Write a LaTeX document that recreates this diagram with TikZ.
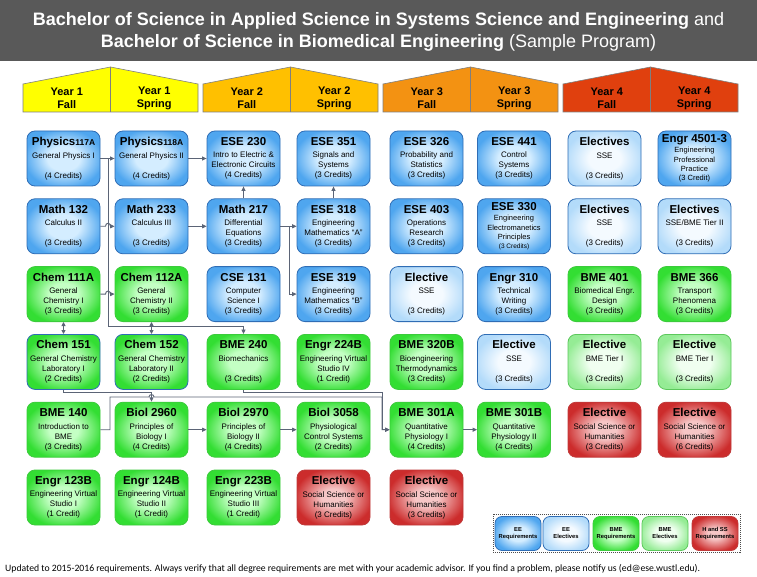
\documentclass[tikz,border=0pt]{standalone}
\usepackage{fontspec}
\setmainfont{Liberation Sans}
\newfontfamily\footfont{Carlito}
\usetikzlibrary{arrows.meta}
\definecolor{titlegray}{HTML}{595959}
\definecolor{hdrA}{HTML}{FFFF00}
\definecolor{hdrB}{HTML}{FFC000}
\definecolor{hdrC}{HTML}{F39212}
\definecolor{hdrD}{HTML}{E0400E}
\definecolor{hdrline}{HTML}{7F7F7F}
\definecolor{lncol}{HTML}{5B6476}
\definecolor{eeB}{HTML}{2F6DB5}
\definecolor{eeO}{HTML}{4FA6EF}
\definecolor{eeI}{HTML}{D4EDFF}
\definecolor{eelO}{HTML}{B3DBFA}
\definecolor{eelI}{HTML}{F4FAFF}
\definecolor{bmB}{HTML}{3CCB3C}
\definecolor{bmO}{HTML}{33DE33}
\definecolor{bmI}{HTML}{C4FFC4}
\definecolor{bmlB}{HTML}{5CC85C}
\definecolor{bmlO}{HTML}{95EC95}
\definecolor{bmlI}{HTML}{F0FFF0}
\definecolor{hsB}{HTML}{C03A3A}
\definecolor{hsO}{HTML}{CC2C2C}
\definecolor{hsI}{HTML}{F6C6C6}
\pgfdeclareradialshading{eeshade}{\pgfpoint{0bp}{0bp}}{color(0bp)=(eeI); color(11bp)=(eeI); color(27bp)=(eeO); color(50bp)=(eeO)}
\pgfdeclareradialshading{eelshade}{\pgfpoint{0bp}{0bp}}{color(0bp)=(eelI); color(11bp)=(eelI); color(27bp)=(eelO); color(50bp)=(eelO)}
\pgfdeclareradialshading{bmshade}{\pgfpoint{0bp}{0bp}}{color(0bp)=(bmI); color(10bp)=(bmI); color(27bp)=(bmO); color(50bp)=(bmO)}
\pgfdeclareradialshading{bmlshade}{\pgfpoint{0bp}{0bp}}{color(0bp)=(bmlI); color(11bp)=(bmlI); color(27bp)=(bmlO); color(50bp)=(bmlO)}
\pgfdeclareradialshading{hsshade}{\pgfpoint{0bp}{0bp}}{color(0bp)=(hsI); color(8bp)=(hsI); color(27bp)=(hsO); color(50bp)=(hsO)}
\newcommand\ct[1]{{\fontsize{11.5}{13}\selectfont\bfseries #1}}
\tikzset{
  crs/.style={rounded corners=8pt, minimum width=73pt, minimum height=55pt, inner sep=0pt,
    align=center, line width=0.8pt, font=\fontsize{8}{10}\selectfont},
  eereq/.style={crs, draw=eeB, shading=eeshade},
  eeel/.style={crs, draw=eeB, shading=eelshade},
  bmereq/.style={crs, draw=bmB, shading=bmshade},
  bmelab/.style={crs, draw=eeB, shading=bmshade},
  bmeel/.style={crs, draw=bmlB, shading=bmlshade},
  hss/.style={crs, draw=hsB, shading=hsshade},
  tight/.style={font=\fontsize{7.5}{9.3}\selectfont},
  hdr/.style={draw=hdrline, line width=0.6pt},
  hdrtxt/.style={font=\fontsize{11}{13}\selectfont\bfseries, align=center},
  ln/.style={draw=lncol, line width=0.9pt},
  arr/.style={ln, -{Triangle[length=4.5pt,width=4pt]}},
  dbl/.style={ln, {Triangle[length=4pt,width=4pt]}-{Triangle[length=4pt,width=4pt]}},
  leg/.style={rounded corners=7pt, minimum width=46pt, minimum height=34pt, inner sep=0pt,
    align=center, line width=0.8pt, font=\fontsize{5.8}{7}\selectfont\bfseries},
}
\begin{document}
\begin{tikzpicture}[x=1pt,y=-1pt]
\useasboundingbox (0,0) rectangle (757,577);
\fill[white] (0,0) rectangle (757,577);
% title
\fill[titlegray] (0,0) rectangle (757,61);
\node[text=white, align=center, font=\fontsize{18}{22}\selectfont] (title) at (378.5,32)
  {{\bfseries Bachelor of Science in Applied Science in Systems Science and Engineering} and\\
   {\bfseries Bachelor of Science in Biomedical Engineering} (Sample Program)};
% headers
\filldraw[hdr, fill=hdrA] (23,112) -- (23,84) -- (110.5,67) -- (198,84) -- (198,112) -- cycle;
\draw[hdr] (110.5,67) -- (110.5,112);
\filldraw[hdr, fill=hdrB] (203,112) -- (203,84) -- (290.5,67) -- (378,84) -- (378,112) -- cycle;
\draw[hdr] (290.5,67) -- (290.5,112);
\filldraw[hdr, fill=hdrC] (383,112) -- (383,84) -- (470.5,67) -- (558,84) -- (558,112) -- cycle;
\draw[hdr] (470.5,67) -- (470.5,112);
\filldraw[hdr, fill=hdrD] (563,112) -- (563,84) -- (650.5,67) -- (738,84) -- (738,112) -- cycle;
\draw[hdr] (650.5,67) -- (650.5,112);
\node[hdrtxt] (h1f) at (66.75,98) {Year 1\\Fall};
\node[hdrtxt] (h1s) at (154.25,98) {Year 1\\Spring};
\node[hdrtxt] (h2f) at (246.75,98) {Year 2\\Fall};
\node[hdrtxt] (h2s) at (334.25,98) {Year 2\\Spring};
\node[hdrtxt] (h3f) at (426.75,98) {Year 3\\Fall};
\node[hdrtxt] (h3s) at (514.25,98) {Year 3\\Spring};
\node[hdrtxt] (h4f) at (606.75,98) {Year 4\\Fall};
\node[hdrtxt] (h4s) at (694.25,98) {Year 4\\Spring};
% row 1
\node[eereq] (p117) at (63.5,158.5) {\ct{Physics{\fontsize{8.5}{10}\selectfont 117A}}\\[2.5pt]General Physics I\\\mbox{}\\(4 Credits)};
\node[eereq] (p118) at (151.5,158.5) {\ct{Physics{\fontsize{8.5}{10}\selectfont 118A}}\\[2.5pt]General Physics II\\\mbox{}\\(4 Credits)};
\node[eereq] (e230) at (243.5,158.5) {\ct{ESE 230}\\[2.5pt]Intro to Electric \&\\Electronic Circuits\\(4 Credits)};
\node[eereq] (e351) at (333.5,158.5) {\ct{ESE 351}\\[2.5pt]Signals and\\Systems\\(3 Credits)};
\node[eereq] (e326) at (426.5,158.5) {\ct{ESE 326}\\[2.5pt]Probability and\\Statistics\\(3 Credits)};
\node[eereq] (e441) at (514,158.5) {\ct{ESE 441}\\[2.5pt]Control\\Systems\\(3 Credits)};
\node[eeel] (el17) at (604.5,158.5) {\ct{Electives}\\[2.5pt]SSE\\\mbox{}\\(3 Credits)};
\node[eereq, tight] (e4501) at (694.5,158.5) {\ct{Engr 4501-3}\\[1pt]Engineering\\Professional\\Practice\\(3 Credit)};
% row 2
\node[eereq] (m132) at (63.5,226.3) {\ct{Math 132}\\[2.5pt]Calculus II\\\mbox{}\\(3 Credits)};
\node[eereq] (m233) at (151.5,226.3) {\ct{Math 233}\\[2.5pt]Calculus III\\\mbox{}\\(3 Credits)};
\node[eereq] (m217) at (243.5,226.3) {\ct{Math 217}\\[2.5pt]Differential\\Equations\\(3 Credits)};
\node[eereq] (e318) at (333.5,226.3) {\ct{ESE 318}\\[2.5pt]Engineering\\Mathematics “A”\\(3 Credits)};
\node[eereq] (e403) at (426.5,226.3) {\ct{ESE 403}\\[2.5pt]Operations\\Research\\(3 Credits)};
\node[eereq, tight] (e330) at (514,226.3) {\ct{ESE 330}\\[1pt]Engineering\\Electromanetics\\Principles\\{\fontsize{6.5}{9}\selectfont(3 Credits)}};
\node[eeel] (el27) at (604.5,226.3) {\ct{Electives}\\[2.5pt]SSE\\\mbox{}\\(3 Credits)};
\node[eeel] (el28) at (694.5,226.3) {\ct{Electives}\\[2.5pt]SSE/BME Tier II\\\mbox{}\\(3 Credits)};
% row 3
\node[bmereq] (c111) at (63.5,294.1) {\ct{Chem 111A}\\[2.5pt]General\\Chemistry I\\(3 Credits)};
\node[bmereq] (c112) at (151.5,294.1) {\ct{Chem 112A}\\[2.5pt]General\\Chemistry II\\(3 Credits)};
\node[eereq] (cs131) at (243.5,294.1) {\ct{CSE 131}\\[2.5pt]Computer\\Science I\\(3 Credits)};
\node[eereq] (e319) at (333.5,294.1) {\ct{ESE 319}\\[2.5pt]Engineering\\Mathematics “B”\\(3 Credits)};
\node[eeel] (el35) at (426.5,294.1) {\ct{Elective}\\[2.5pt]SSE\\\mbox{}\\(3 Credits)};
\node[eereq] (en310) at (514,294.1) {\ct{Engr 310}\\[2.5pt]Technical\\Writing\\(3 Credits)};
\node[bmereq] (b401) at (604.5,294.1) {\ct{BME 401}\\[2.5pt]Biomedical Engr.\\Design\\(3 Credits)};
\node[bmereq] (b366) at (694.5,294.1) {\ct{BME 366}\\[2.5pt]Transport\\Phenomena\\(3 Credits)};
% row 4
\node[bmelab] (c151) at (63.5,361.9) {\ct{Chem 151}\\[2.5pt]General Chemistry\\Laboratory I\\(2 Credits)};
\node[bmelab] (c152) at (151.5,361.9) {\ct{Chem 152}\\[2.5pt]General Chemistry\\Laboratory II\\(2 Credits)};
\node[bmereq] (b240) at (243.5,361.9) {\ct{BME 240}\\[2.5pt]Biomechanics\\\mbox{}\\(3 Credits)};
\node[bmereq] (en224) at (333.5,361.9) {\ct{Engr 224B}\\[2.5pt]Engineering Virtual\\Studio IV\\(1 Credit)};
\node[bmereq] (b320) at (426.5,361.9) {\ct{BME 320B}\\[2.5pt]Bioengineering\\Thermodynamics\\(3 Credits)};
\node[eeel] (el46) at (514,361.9) {\ct{Elective}\\[2.5pt]SSE\\\mbox{}\\(3 Credits)};
\node[bmeel] (el47) at (604.5,361.9) {\ct{Elective}\\[2.5pt]BME Tier I\\\mbox{}\\(3 Credits)};
\node[bmeel] (el48) at (694.5,361.9) {\ct{Elective}\\[2.5pt]BME Tier I\\\mbox{}\\(3 Credits)};
% row 5
\node[bmereq] (b140) at (63.5,429.7) {\ct{BME 140}\\[2.5pt]Introduction to\\BME\\(3 Credits)};
\node[bmereq] (bi2960) at (151.5,429.7) {\ct{Biol 2960}\\[2.5pt]Principles of\\Biology I\\(4 Credits)};
\node[bmereq] (bi2970) at (243.5,429.7) {\ct{Biol 2970}\\[2.5pt]Principles of\\Biology II\\(4 Credits)};
\node[bmereq] (bi3058) at (333.5,429.7) {\ct{Biol 3058}\\[2.5pt]Physiological\\Control Systems\\(2 Credits)};
\node[bmereq] (b301a) at (426.5,429.7) {\ct{BME 301A}\\[2.5pt]Quantitative\\Physiology I\\(4 Credits)};
\node[bmereq] (b301b) at (514,429.7) {\ct{BME 301B}\\[2.5pt]Quantitative\\Physiology II\\(4 Credits)};
\node[hss] (hs57) at (604.5,429.7) {\ct{Elective}\\[2.5pt]Social Science or\\Humanities\\(3 Credits)};
\node[hss] (hs58) at (694.5,429.7) {\ct{Elective}\\[2.5pt]Social Science or\\Humanities\\(6 Credits)};
% row 6
\node[bmereq] (en123) at (63.5,497.5) {\ct{Engr 123B}\\[2.5pt]Engineering Virtual\\Studio I\\(1 Credit)};
\node[bmereq] (en124) at (151.5,497.5) {\ct{Engr 124B}\\[2.5pt]Engineering Virtual\\Studio II\\(1 Credit)};
\node[bmereq] (en223) at (243.5,497.5) {\ct{Engr 223B}\\[2.5pt]Engineering Virtual\\Studio III\\(1 Credit)};
\node[hss] (hs64) at (333.5,497.5) {\ct{Elective}\\[2.5pt]Social Science or\\Humanities\\(3 Credits)};
\node[hss] (hs65) at (426.5,497.5) {\ct{Elective}\\[2.5pt]Social Science or\\Humanities\\(3 Credits)};
% connectors
\coordinate (jp) at (108,158.5);
\coordinate (jm) at (289,226.3);
\draw[arr] (p117.east) -- (p118.west);
\draw[arr] (jp) -- (108,326) -| (b240.north);
\draw[arr] (m132.east) -- (105.5,226.3) .. controls (105.5,222.3) and (110.5,222.3) .. (110.5,226.3) -- (m233.west);
\draw[arr] (c111.east) -- (105.5,294.1) .. controls (105.5,290.1) and (110.5,290.1) .. (110.5,294.1) -- (c112.west);
\draw[arr] (p118.east) -- (e230.west);
\draw[arr] (m233.east) -- (m217.west);
\draw[arr] (m217.north) -- (e230.south);
\draw[arr] (m217.east) -- (e318.west);
\draw[arr] (jm) |- (e319.west);
\draw[arr] (e318.north) -- (e351.south);
\draw[dbl] (c111.south) -- (c151.north);
\draw[dbl] (c112.south) -- (c152.north);
\draw[arr] (c151.south) |- (151.5,392.5) -- (bi2960.north);
\draw[arr] (b140.east) -- (110,429.7) -- (110,397) -- (149,397) .. controls (149,393.8) and (154,393.8) .. (154,397) -- (382,397) |- (b301a.west);
\draw[arr] (b240.south) |- (382,392.5) |- (b301a.west);
\draw[arr] (bi2960.east) -- (bi2970.west);
\draw[arr] (bi2970.east) -- (bi3058.west);
\draw[arr] (b301a.east) -- (b301b.west);
% legend
\draw[black!70, line width=0.6pt, dash pattern=on 1pt off 1pt] (493,514) rectangle (740,552);
\node[leg, draw=eeB, shading=eeshade] (lg1) at (518,533.5) {EE\\Requirements};
\node[leg, draw=eeB, shading=eelshade] (lg2) at (566,533.5) {EE\\Electives};
\node[leg, draw=bmB, shading=bmshade] (lg3) at (616,533.5) {BME\\Requirements};
\node[leg, draw=bmlB, shading=bmlshade] (lg4) at (665,533.5) {BME\\Electives};
\node[leg, draw=hsB, shading=hsshade] (lg5) at (715,533.5) {H and SS\\Requirements};
% footer
\node[anchor=west, inner sep=0pt, font=\footfont\fontsize{9.7}{11}\selectfont] (foot) at (5,569)
  {Updated to 2015-2016 requirements. Always verify that all degree requirements are met with your academic advisor. If you find a problem, please notify us (ed@ese.wustl.edu).};
\end{tikzpicture}
\end{document}
